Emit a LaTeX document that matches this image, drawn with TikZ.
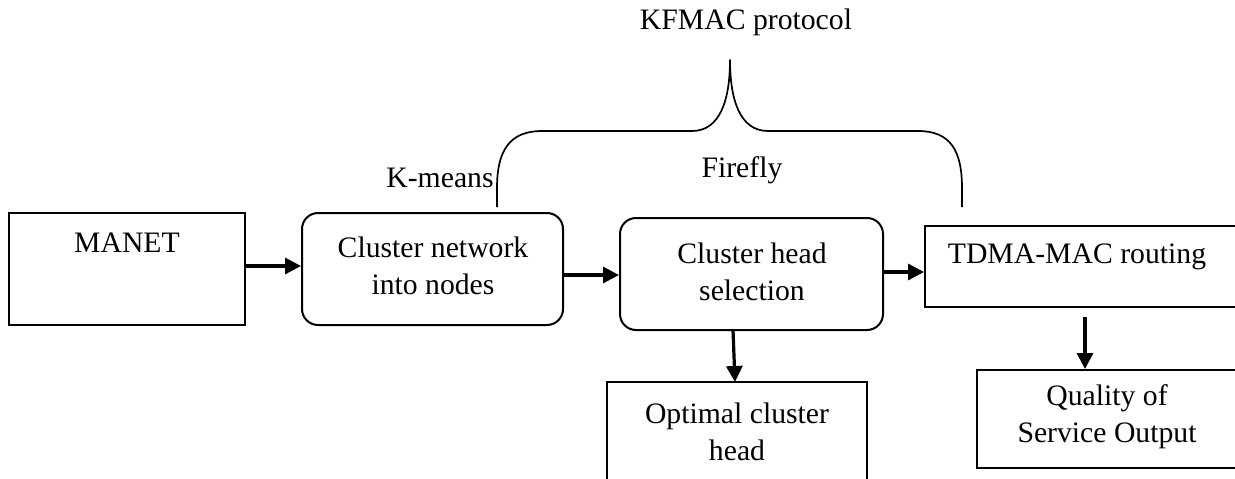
\documentclass[tikz,border=0pt]{standalone}
\usepackage{fontspec}
\setmainfont{Liberation Serif}
\usetikzlibrary{arrows.meta}

\tikzset{
  every node/.style={font=\fontsize{29.7}{37}\selectfont},
  sqbox/.style={draw, line width=2pt, rectangle, inner sep=0pt},
  rbox/.style={draw, line width=2pt, rectangle, rounded corners=16pt, inner sep=0pt},
  txt/.style={align=center, inner sep=0pt},
  flow/.style={line width=3.2pt, -{Triangle[length=16pt,width=16pt]}},
  brace/.style={line width=1.7pt, line join=round}
}

\begin{document}
\begin{tikzpicture}[x=1pt,y=1pt]
  \useasboundingbox (0,0) rectangle (1235,-479);
  \clip (0,0) rectangle (1235,-479);

  % process boxes
  \node[sqbox, minimum width=236pt, minimum height=112pt] (manet) at (127,-269) {};
  \node[rbox,  minimum width=261pt, minimum height=112pt] (clus)  at (432.5,-269) {};
  \node[rbox,  minimum width=263pt, minimum height=112pt] (chs)   at (751.5,-274) {};
  \node[sqbox, minimum width=320pt, minimum height=81pt]  (tdma)  at (1085,-266.5) {};
  \node[sqbox, minimum width=260pt, minimum height=108pt] (opt)   at (737,-436) {};
  \node[sqbox, minimum width=268pt, minimum height=98pt]  (qos)   at (1111,-419) {};

  % box texts
  \node[txt] (manett) at (127,-243) {MANET};
  \node[txt] (clust)  at (433,-266) {Cluster network\\into nodes};
  \node[txt] (chst)   at (752,-272) {Cluster head\\selection};
  \node[txt] (tdmat)  at (1077,-257) {TDMA-MAC routing};
  \node[txt] (optt)   at (737,-432) {Optimal cluster\\head};
  \node[txt] (qost)   at (1107,-417) {Quality of\\Service Output};

  % labels above
  \node[txt] (km)    at (440,-178) {K-means};
  \node[txt] (ff)    at (742,-170) {Firefly};
  \node[txt] (kfmac) at (746,-22)  {KFMAC protocol};

  % flow arrows
  \coordinate (a1) at (manet.east |- 0,-266);
  \draw[flow] (a1) -- (a1 -| clus.west);
  \coordinate (a2) at (clus.east |- 0,-275);
  \draw[flow] (a2) -- (a2 -| chs.west);
  \coordinate (a3) at (chs.east |- 0,-272);
  \draw[flow] (a3) -- (a3 -| tdma.west);
  \coordinate (a4) at (733,-330);
  \draw[flow] (a4) -- (735,-382);
  \coordinate (a5) at (1085,-317);
  \draw[flow] (a5) -- (a5 |- qos.north);

  % brace grouping the three stages
  \coordinate (bl) at (497,-207);
  \coordinate (br) at (962,-207);
  \coordinate (tip) at (730,-60);
  \draw[brace] (bl) -- (497,-188)
    .. controls (497,-150) and (510,-131) .. (542,-131)
    -- (692,-131)
    .. controls (720,-131) and (730,-100) .. (tip)
    .. controls (730,-100) and (740,-131) .. (768,-131)
    -- (918,-131)
    .. controls (950,-131) and (962,-150) .. (962,-188)
    -- (br);
\end{tikzpicture}
\end{document}
